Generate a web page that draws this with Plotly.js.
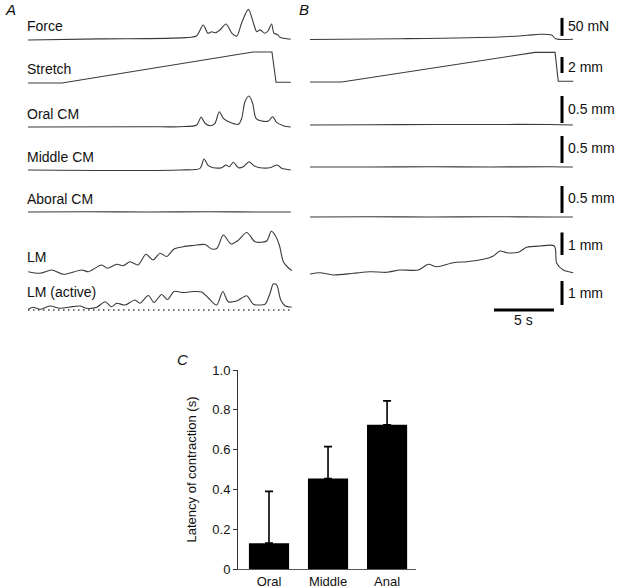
<!DOCTYPE html>
<html><head><meta charset="utf-8">
<script src="https://cdn.plot.ly/plotly-3.0.1.min.js"></script>
<style>html,body{margin:0;padding:0;background:#fff}</style>
</head><body><div id="chart" style="width:620px;height:588px"></div>
<script>
// ---------- Panel A (time in s, values in physical units) ----------
const aForceT = [0, 6, 13.1, 14.06, 14.6, 15.0, 15.3, 15.6, 16.0, 16.5, 17.0, 17.4, 17.8, 18.36, 18.8, 19.06, 19.33, 19.75, 20.0, 20.3, 20.5, 20.8, 21.0, 21.9];
const aForce  = [0, 3, 6.5, 12, 41.7, 18.6, 23, 20, 27.8, 44.5, 18.6, 11, 47, 85, 46, 23, 28, 18.6, 25, 44.5, 18.6, 15, 7.5, 2];
const aStretchT = [0, 2.83, 18.75, 20.33, 20.67, 21.9];
const aStretch  = [0, 0, 3.875, 3.875, 0.1, 0.1];
const aOralT = [0, 10, 12.67, 14.06, 14.42, 14.75, 15.17, 15.58, 15.94, 16.28, 16.83, 17.53, 17.81, 18.08, 18.42, 18.72, 19.0, 19.47, 20.03, 20.39, 20.72, 21.28, 21.9];
const aOral  = [0, 0.005, 0.006, 0.037, 0.185, 0.069, 0.024, 0.069, 0.283, 0.161, 0.087, 0.05, 0.161, 0.469, 0.574, 0.439, 0.161, 0.111, 0.111, 0.191, 0.087, 0.024, 0];
const aMiddleT = [0, 12.67, 14.33, 14.67, 15.03, 15.44, 16.14, 16.5, 16.78, 17.11, 17.53, 17.94, 18.42, 18.83, 19.33, 20.17, 20.78, 21.14, 21.9];
const aMiddle  = [0, 0, 0.031, 0.204, 0.08, 0.043, 0.043, 0.093, 0.061, 0.143, 0.043, 0.061, 0.154, 0.08, 0.043, 0.043, 0.093, 0.031, 0];
const aAboralT = [0, 5, 10, 15, 20, 21.9];
const aAboral  = [0, 0.005, 0, 0.005, 0, 0];
const aLMT = [0.02, 1.0, 1.98, 2.94, 4.48, 5.03, 6.14, 6.61, 7.39, 7.94, 8.5, 9.17, 9.83, 10.42, 11.0, 11.56, 12.17, 12.94, 13.78, 14.75, 15.31, 15.75, 16.28, 16.92, 17.5, 18.23, 18.92, 19.89, 20.27, 20.58, 20.94, 21.28, 21.67, 21.98];
const aLM  = [0.147, 0.076, 0.222, 0.031, 0.222, 0.147, 0.444, 0.298, 0.476, 0.413, 0.591, 0.444, 0.92, 0.667, 0.964, 0.822, 1.156, 1.258, 1.311, 1.356, 1.156, 1.187, 1.778, 1.378, 1.533, 1.889, 1.48, 1.511, 1.942, 1.778, 1.333, 0.591, 0.333, 0.2];
const aActT = [0.02, 0.44, 1.0, 1.83, 2.67, 3.5, 4.33, 4.89, 5.73, 6.42, 6.97, 7.39, 8.08, 8.92, 9.33, 10.03, 10.5, 11.14, 11.63, 12.17, 12.94, 13.78, 14.47, 15.03, 15.72, 16.23, 16.69, 17.39, 18.22, 18.78, 19.33, 19.75, 20.17, 20.44, 20.72, 21.06, 21.42, 21.97];
const aAct  = [0.029, 0.113, 0.029, 0.167, 0.071, 0.125, 0.167, 0.071, 0.113, 0.346, 0.138, 0.279, 0.208, 0.417, 0.279, 0.604, 0.313, 0.646, 0.438, 0.771, 0.729, 0.771, 0.75, 0.5, 0.208, 0.771, 0.346, 0.375, 0.596, 0.238, 0.208, 0.238, 0.696, 1.083, 1.042, 0.417, 0.179, 0.113];
const aActZeroT = [0, 21.9];
const aActZero  = [0, 0];

// ---------- Panel B ----------
const bForceT = [0, 7.5, 15.8, 18.1, 19.17, 20.14, 20.46, 21.92];
const bForce  = [0, 2.2, 7, 11.7, 14.5, 12.5, 2.2, 0.5];
const bStretchT = [0, 2.64, 18.75, 20.42, 20.69, 21.94];
const bStretch  = [0, 0, 3.7, 3.7, 0.1, 0.1];
const bOralT = [0, 5, 10, 15, 20, 21.9];
const bOral  = [0, 0.005, 0.01, 0.01, 0.01, 0];
const bMiddleT = [0, 5, 10, 15, 20, 21.9];
const bMiddle  = [0, 0, 0.005, 0, 0.005, 0];
const bAboralT = [0, 5, 10, 15, 20, 21.9];
const bAboral  = [0, 0.005, 0, 0.005, 0, 0];
const bLMT = [0, 0.83, 1.94, 3.61, 5.0, 6.39, 7.5, 9.03, 9.86, 10.56, 11.94, 13.06, 14.44, 15.28, 15.83, 16.39, 17.36, 18.06, 19.17, 20.36, 20.56, 21.11, 21.94];
const bLM  = [0.044, 0.102, 0, 0.076, 0.147, 0.12, 0.222, 0.222, 0.476, 0.369, 0.547, 0.591, 0.698, 0.844, 1.067, 0.991, 1.009, 1.231, 1.289, 1.289, 0.52, 0.222, 0.102];

// scale bars: [low, high] in each row's units
const barForce = [10, 60];      // 50 mN
const barStretch = [1.125, 3.125]; // 2 mm
const barOral = [0.037, 0.537];   // 0.5 mm
const barMiddle = [0.074, 0.574];
const barAboral = [0.074, 0.574];
const barLM = [0.889, 1.889];     // 1 mm
const barAct = [0.208, 1.208];    // 1 mm
const timeBar = [15.33, 20.33];   // 5 s

const rowLabels = ['Force', 'Stretch', 'Oral CM', 'Middle CM', 'Aboral CM', 'LM', 'LM (active)'];
const scaleLabels = ['50 mN', '2 mm', '0.5 mm', '0.5 mm', '0.5 mm', '1 mm', '1 mm'];

// ---------- Panel C ----------
const cCats = ['Oral', 'Middle', 'Anal'];
const cLatency = [0.13, 0.455, 0.725];
const cSEM = [0.26, 0.16, 0.12];
const cTickVals = [0, 0.2, 0.4, 0.6, 0.8, 1.0];
const cTickText = ['0', '0.2', '0.4', '0.6', '0.8', '1.0'];

// ---------- build ----------
const W = 620, H = 588;
const pxX = x => x / W, pxY = y => 1 - y / H;
const FONT = 'Liberation Sans, Arial, sans-serif';
const TC = '#3a3a3a';
const layout = {
  width: W, height: H, margin: {l: 0, r: 0, t: 0, b: 0},
  paper_bgcolor: '#fff', plot_bgcolor: 'rgba(0,0,0,0)', showlegend: false,
  font: {family: FONT, color: '#111', size: 13},
  xaxis: {domain: [pxX(28), pxX(292)], range: [0, 22], visible: false, fixedrange: true},
  xaxis2: {domain: [pxX(310), pxX(574)], range: [0, 22], visible: false, fixedrange: true},
  shapes: [], annotations: []
};
const traces = [];
// rows: baseline px A, baseline px B, px per unit, domain top, domain bottom
const rows = [
  {bA: 40, bB: 39.5, s: 0.36, top: 2, bot: 46},
  {bA: 83, bB: 82, s: 8, top: 47, bot: 90},
  {bA: 127, bB: 125, s: 54, top: 91, bot: 133},
  {bA: 170, bB: 167, s: 54, top: 134, bot: 176},
  {bA: 212, bB: 217, s: 54, top: 177, bot: 222},
  {bA: 275, bB: 275, s: 22.5, top: 223, bot: 278},
  {bA: 310, bB: null, s: 24, top: 279, bot: 316}
];
const dataA = [[aForceT, aForce], [aStretchT, aStretch], [aOralT, aOral], [aMiddleT, aMiddle], [aAboralT, aAboral], [aLMT, aLM], [aActT, aAct]];
const dataB = [[bForceT, bForce], [bStretchT, bStretch], [bOralT, bOral], [bMiddleT, bMiddle], [bAboralT, bAboral], [bLMT, bLM], null];
const bars = [barForce, barStretch, barOral, barMiddle, barAboral, barLM, barAct];
function yAx(base, s, top, bot, anchor) {
  return {domain: [pxY(bot), pxY(top)], range: [(base - bot) / s, (base - top) / s], visible: false, anchor: anchor, fixedrange: true};
}
let n = 1;
rows.forEach((r, i) => {
  const ia = n++;
  const refA = 'y' + (ia === 1 ? '' : ia);
  layout['yaxis' + (ia === 1 ? '' : ia)] = yAx(r.bA, r.s, r.top, r.bot, 'x');
  const linear = (i === 1);
  traces.push({x: dataA[i][0], y: dataA[i][1], xaxis: 'x', yaxis: refA, mode: 'lines',
    line: {color: TC, width: 1.1, shape: linear ? 'linear' : 'spline', smoothing: 0.8}, hoverinfo: 'skip'});
  if (i === 6) {
    traces.push({x: aActZeroT, y: aActZero, xaxis: 'x', yaxis: refA, mode: 'lines',
      line: {color: '#444', width: 1.5, dash: '1.5px,3.5px'}, hoverinfo: 'skip'});
  }
  let barRef = refA;
  if (dataB[i]) {
    const ib = n++;
    layout['yaxis' + ib] = yAx(r.bB, r.s, r.top, r.bot, 'x2');
    traces.push({x: dataB[i][0], y: dataB[i][1], xaxis: 'x2', yaxis: 'y' + ib, mode: 'lines',
      line: {color: TC, width: 1.1, shape: linear ? 'linear' : 'spline', smoothing: 0.8}, hoverinfo: 'skip'});
    barRef = 'y' + ib;
  }
  layout.shapes.push({type: 'line', xref: 'paper', yref: barRef, x0: pxX(562), x1: pxX(562), y0: bars[i][0], y1: bars[i][1], line: {color: '#000', width: 3}});
  const labelY = [26.5, 69, 114, 157, 199, 256.5, 291.5][i];
  layout.annotations.push({text: rowLabels[i], xref: 'paper', yref: 'paper', x: pxX(25), y: pxY(labelY), xanchor: 'left', yanchor: 'middle', showarrow: false, font: {size: 14, family: FONT, color: '#111'}});
  const scY = [25.5, 67, 109, 148, 198, 245, 293][i];
  layout.annotations.push({text: scaleLabels[i], xref: 'paper', yref: 'paper', x: pxX(566), y: pxY(scY), xanchor: 'left', yanchor: 'middle', showarrow: false, font: {size: 14, family: FONT, color: '#111'}});
});
// time bar
layout.shapes.push({type: 'line', xref: 'x2', yref: 'paper', x0: timeBar[0], x1: timeBar[1], y0: pxY(310), y1: pxY(310), line: {color: '#000', width: 3}});
layout.annotations.push({text: '5 s', xref: 'x2', yref: 'paper', x: (timeBar[0] + timeBar[1]) / 2, y: pxY(320), xanchor: 'center', yanchor: 'middle', showarrow: false, font: {size: 14, family: FONT, color: '#111'}});
// panel letters
[['A', 3, 9.5], ['B', 297, 9.5], ['C', 175, 359]].forEach(p => {
  layout.annotations.push({text: '<i>' + p[0] + '</i>', xref: 'paper', yref: 'paper', x: pxX(p[1]), y: pxY(p[2]), xanchor: 'left', yanchor: 'middle', showarrow: false, font: {size: 15, family: FONT, color: '#111'}});
});

// Panel C
layout.xaxis3 = {domain: [pxX(238), pxX(416)], anchor: 'y14', type: 'category', range: [-0.525, 2.49], showline: true, linecolor: '#555', linewidth: 1,
  ticks: '', showgrid: false, zeroline: false, tickfont: {size: 13, family: FONT, color: '#111'}, fixedrange: true};
layout.yaxis14 = {domain: [pxY(569), pxY(370)], anchor: 'x3', range: [0, 1], showline: true, linecolor: '#333', linewidth: 1,
  ticks: 'outside', ticklen: 4, tickwidth: 1, tickcolor: '#333', tickvals: cTickVals, ticktext: cTickText,
  showgrid: false, zeroline: false, tickfont: {size: 13, family: FONT, color: '#111'},
  title: {text: 'Latency of contraction (s)', font: {size: 13, family: FONT, color: '#111'}, standoff: 12}, automargin: false, fixedrange: true};
traces.push({type: 'bar', x: cCats, y: cLatency, xaxis: 'x3', yaxis: 'y14', width: 0.68,
  marker: {color: '#000', line: {width: 0}},
  error_y: {type: 'data', symmetric: false, array: cSEM, arrayminus: [0, 0, 0], color: '#000', thickness: 1.6, width: 4}, hoverinfo: 'skip'});

Plotly.newPlot('chart', traces, layout, {staticPlot: true, displayModeBar: false});
</script></body></html>
